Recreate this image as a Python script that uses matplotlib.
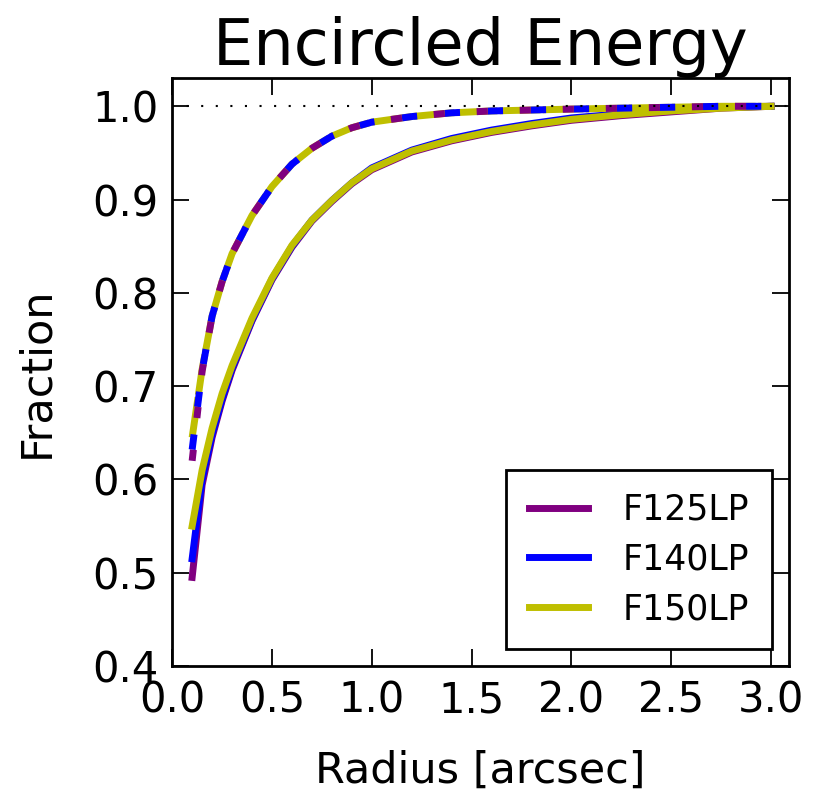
import numpy as np
import matplotlib
matplotlib.use("Agg")
import matplotlib.pyplot as plt

# radius grid [arcsec]
radius = [0.10, 0.15, 0.20, 0.25, 0.30, 0.40, 0.50, 0.60, 0.70, 0.80, 0.90,
          1.00, 1.20, 1.40, 1.60, 1.80, 2.00, 2.25, 2.50, 2.75, 3.00]

# encircled energy, solid curves
ee_f125 = [0.495, 0.594, 0.645, 0.684, 0.717, 0.770, 0.814, 0.849, 0.877, 0.898, 0.917,
           0.932, 0.951, 0.963, 0.972, 0.979, 0.985, 0.990, 0.994, 0.998, 1.000]
ee_f140 = [0.515, 0.600, 0.648, 0.686, 0.719, 0.771, 0.815, 0.850, 0.878, 0.899, 0.918,
           0.934, 0.953, 0.9655, 0.9745, 0.9815, 0.9875, 0.992, 0.996, 0.999, 1.000]
ee_f150 = [0.550, 0.610, 0.655, 0.692, 0.722, 0.773, 0.816, 0.851, 0.878, 0.899, 0.918,
           0.933, 0.952, 0.964, 0.973, 0.980, 0.986, 0.991, 0.995, 0.998, 1.000]

# encircled energy, dashed curves
ee_f125_d = [0.620, 0.716, 0.775, 0.812, 0.842, 0.883, 0.914, 0.938, 0.955, 0.968, 0.977,
             0.983, 0.989, 0.993, 0.995, 0.996, 0.997, 0.998, 0.999, 1.000, 1.000]
ee_f140_d = [0.632, 0.717, 0.775, 0.812, 0.842, 0.883, 0.914, 0.938, 0.955, 0.968, 0.977,
             0.983, 0.989, 0.993, 0.995, 0.996, 0.997, 0.998, 0.999, 1.000, 1.000]
ee_f150_d = [0.645, 0.718, 0.775, 0.812, 0.842, 0.883, 0.914, 0.938, 0.955, 0.968, 0.977,
             0.983, 0.989, 0.993, 0.995, 0.996, 0.997, 0.998, 0.999, 1.000, 1.000]

filters = ["F125LP", "F140LP", "F150LP"]
colors = ["purple", "b", (0.75, 0.75, 0.0)]
# dash patterns (in linewidth units); drawn yellow first so purple/blue sit on top
dash_styles = [(0, (1.6, 4.6)), (0, (2.2, 4.0)), (0, (5.85, 0.35))]

plt.rcParams.update({'font.family': 'DejaVu Sans',
                     'xtick.direction': 'in', 'ytick.direction': 'in',
                     'xtick.top': True, 'ytick.right': True})

fig = plt.figure(figsize=(8.16, 7.91), dpi=100)
ax = fig.add_axes([0.211, 0.158, 0.756, 0.743])

lw = 5
for ee, col, name in zip([ee_f125, ee_f140, ee_f150], colors, filters):
    ax.plot(radius, ee, color=col, lw=lw, label=name)
dashed = list(zip([ee_f125_d, ee_f140_d, ee_f150_d], colors, dash_styles))
for ee, col, ds in dashed[::-1]:
    ax.plot(radius, ee, color=col, lw=lw, linestyle=ds)

ax.axhline(1.0, color='k', lw=1.5, linestyle=(0, (1, 6)))

ax.set_xlim(0, 3.09)
ax.set_ylim(0.4, 1.03)
ax.set_xticks(np.arange(0, 3.01, 0.5))
ax.set_yticks(np.arange(0.4, 1.01, 0.1))
ax.tick_params(axis='both', which='major', labelsize=30, length=12, width=1.3, pad=10)
for sp in ax.spines.values():
    sp.set_linewidth(2)

ax.set_title("Encircled Energy", fontsize=46, pad=2)
ax.set_xlabel("Radius [arcsec]", fontsize=31, labelpad=20)
ax.set_ylabel("Fraction", fontsize=31, labelpad=25)

leg = ax.legend(loc='lower right', fontsize=25, handlelength=1.7, fancybox=False,
                framealpha=1, edgecolor='k', borderpad=0.65, labelspacing=0.45,
                handletextpad=1.0, borderaxespad=0.5)
leg.get_frame().set_linewidth(2)

plt.savefig("out.png", dpi=100)
